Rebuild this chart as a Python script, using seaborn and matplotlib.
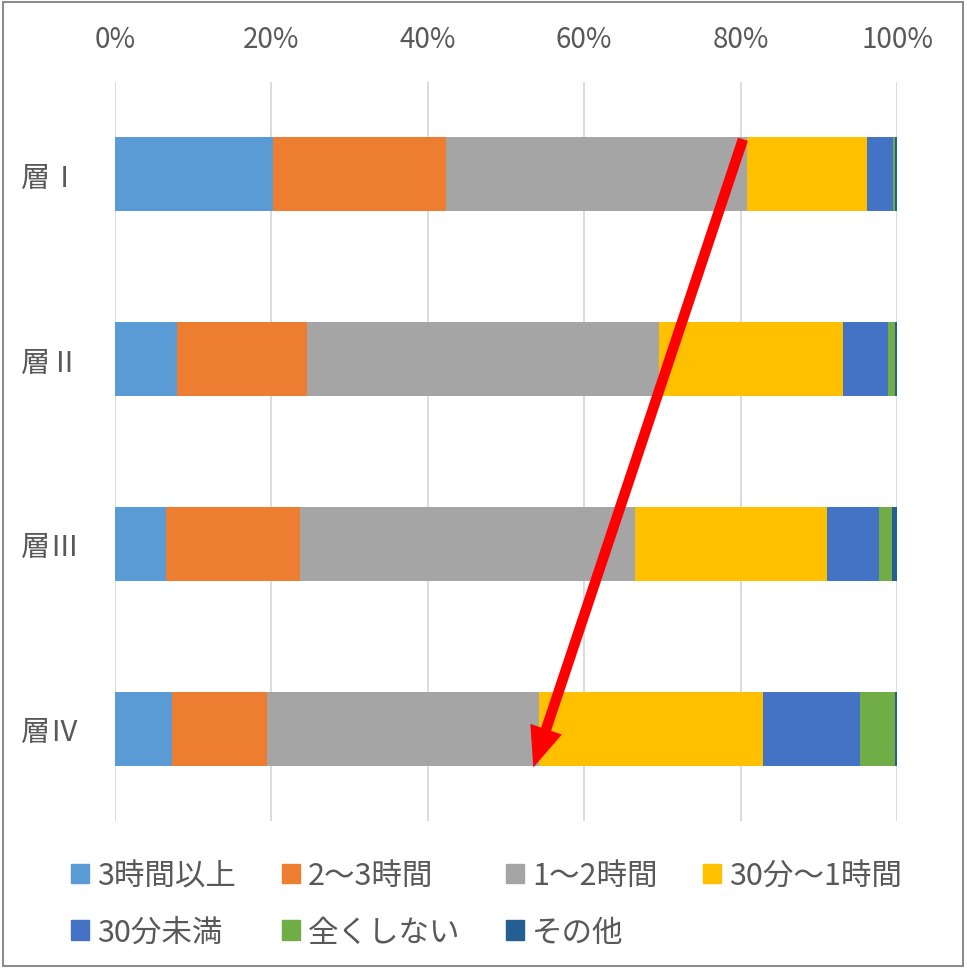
import matplotlib
matplotlib.use("Agg")
import matplotlib.pyplot as plt
from matplotlib.patches import Rectangle
from matplotlib.ticker import FuncFormatter
import numpy as np
import pandas as pd
import seaborn as sns

# data (percent shares)
layers = ["層Ⅰ", "層Ⅱ", "層Ⅲ", "層Ⅳ"]
categories = ["3時間以上", "2～3時間", "1～2時間", "30分～1時間", "30分未満", "全くしない", "その他"]
colors = ["#5B9BD5", "#ED7D31", "#A5A5A5", "#FFC000", "#4472C4", "#70AD47", "#255E91"]
share_3h_plus = [20.2, 7.9, 6.5, 7.3]
share_2_3h = [22.1, 16.7, 17.1, 12.2]
share_1_2h = [38.5, 45.0, 42.9, 34.7]
share_30m_1h = [15.3, 23.5, 24.6, 28.7]
share_under_30m = [3.4, 5.7, 6.6, 12.4]
share_none = [0.3, 0.9, 1.7, 4.5]
share_other = [0.2, 0.3, 0.6, 0.2]
xticks = [0, 20, 40, 60, 80, 100]

series = [share_3h_plus, share_2_3h, share_1_2h, share_30m_1h,
          share_under_30m, share_none, share_other]

df = pd.DataFrame(dict(zip(categories, series)), index=layers)
cum = df.cumsum(axis=1)

sns.set_style("white")
plt.rcParams["font.family"] = ["Noto Sans CJK JP", "DejaVu Sans"]
text_color = "#595959"

fig = plt.figure(figsize=(9.67, 9.70), dpi=100)
ax = fig.add_axes([115 / 967, 1 - 822 / 970, 782 / 967, 739 / 970])

# stacked bars: draw cumulative totals from the last segment back to the first
handles = []
for cat, col in reversed(list(zip(categories, colors))):
    sns.barplot(x=cum[cat].values, y=layers, orient="h", color=col,
                width=0.4, ax=ax, saturation=1, linewidth=0)
for cat, col in zip(categories, colors):
    handles.append(Rectangle((0, 0), 1, 1, color=col, label=cat))

ax.set_xlim(0, 100)
ax.set_xticks(xticks)
ax.xaxis.set_major_formatter(FuncFormatter(lambda v, p: f"{v:.0f}%"))
ax.xaxis.tick_top()
ax.tick_params(axis="x", length=0, pad=20, labelsize=20, labelcolor=text_color)
ax.tick_params(axis="y", length=0, pad=26, labelsize=21, labelcolor=text_color)
ax.set_xlabel("")
ax.set_ylabel("")
ax.grid(axis="x", color="#d9d9d9", linewidth=1.3)
ax.grid(axis="y", visible=False)
ax.set_axisbelow(True)
for s in ax.spines.values():
    s.set_visible(False)

# red arrow from the end of the 1~2h segment in 層Ⅰ to the one in 層Ⅳ
gray_end = cum["1～2時間"]
ax.annotate("", xy=(gray_end.iloc[3] - 0.7, 3.21), xytext=(gray_end.iloc[0] - 0.5, -0.19),
            arrowprops=dict(facecolor="red", edgecolor="none", width=7.5,
                            headwidth=24, headlength=29, shrink=0))

# legend filled row by row (matplotlib fills columns, so reorder)
order = [0, 4, 1, 5, 2, 6, 3]
fig.legend([handles[i] for i in order], [categories[i] for i in order],
           loc="center left", bbox_to_anchor=(71 / 967, 1 - 905 / 970),
           ncol=4, frameon=False, fontsize=22, labelcolor=text_color,
           handlelength=0.59, handleheight=0.59, handletextpad=0.26,
           columnspacing=1.5, labelspacing=0.83, borderpad=0, borderaxespad=0)

fig.patches.append(Rectangle((3 / 967, 3 / 970), 960 / 967, 964 / 970,
                             transform=fig.transFigure, fill=False,
                             edgecolor="#8c8c8c", linewidth=1.5))

fig.savefig("out.png", dpi=100)
